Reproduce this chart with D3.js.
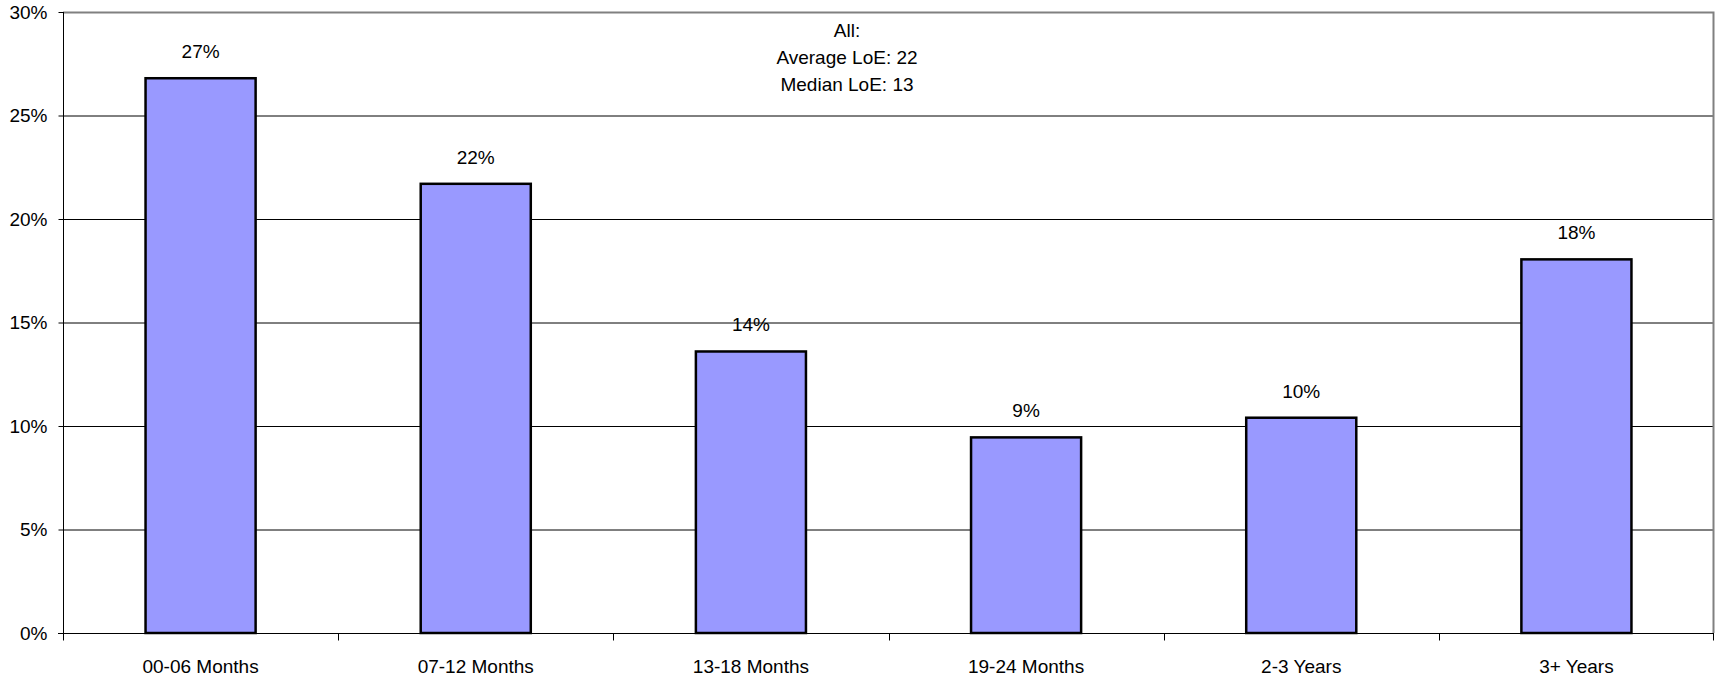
<!DOCTYPE html>
<html>
<head>
<meta charset="utf-8">
<script src="https://cdn.jsdelivr.net/npm/d3@7"></script>
<style>
  body { margin: 0; background: #fff; }
  text { font-family: "Liberation Sans", Arial, sans-serif; fill: #000; }
  .axis path, .axis line { stroke: #000; }
  .axis text { font-size: 19px; }
  .grid line { stroke: #000; stroke-width: 1; }
</style>
</head>
<body>
<div id="chart"></div>
<script>
var margin = {top: 12, right: 1, bottom: 45, left: 63};
var width = 1715 - margin.left - margin.right;
var height = 678 - margin.top - margin.bottom;

// data
var categories = ["00-06 Months", "07-12 Months", "13-18 Months", "19-24 Months", "2-3 Years", "3+ Years"];
var shares = [26.8, 21.7, 13.6, 9.45, 10.4, 18.05];
var shareLabels = ["27%", "22%", "14%", "9%", "10%", "18%"];
var yTicks = [0, 5, 10, 15, 20, 25, 30];
var noteLines = ["All:", "Average LoE: 22", "Median LoE: 13"];

var svg = d3.select("#chart")
            .append("svg")
              .attr("width", 1715)
              .attr("height", 678);

var chart = svg.append("g")
               .attr("transform", "translate(" + margin.left + "," + margin.top + ")");

// scales
var xScale = d3.scaleBand()
               .domain(categories)
               .range([0, width])
               .paddingInner(0.6)
               .paddingOuter(0.3);

var yScale = d3.scaleLinear()
               .domain([0, 30])
               .range([height, 0]);

// gridlines
chart.append("g")
      .attr("class", "grid")
     .selectAll("line")
      .data(yTicks.filter(function(d) { return d > 0 && d < 30; }))
      .enter()
     .append("line")
      .attr("x1", 0)
      .attr("x2", width)
      .attr("y1", function(d) { return yScale(d) + 0.5; })
      .attr("y2", function(d) { return yScale(d) + 0.5; });

// plot border (top and right)
chart.append("path")
      .attr("d", "M0," + (yScale(30) + 0.5) + "H" + (width - 0.5) + "V" + height)
      .attr("fill", "none")
      .attr("stroke", "#808080")
      .attr("stroke-width", 2);

// bars
chart.selectAll(".bar")
      .data(shares)
      .enter()
     .append("rect")
      .attr("class", "bar")
      .attr("x", function(d, i) { return xScale(categories[i]); })
      .attr("y", function(d) { return yScale(d); })
      .attr("width", xScale.bandwidth())
      .attr("height", function(d) { return height - yScale(d); })
      .attr("fill", "#9999ff")
      .attr("stroke", "#000")
      .attr("stroke-width", 2.5);

// bar labels
chart.selectAll(".bar-label")
      .data(shares)
      .enter()
     .append("text")
      .attr("class", "bar-label")
      .attr("x", function(d, i) { return xScale(categories[i]) + xScale.bandwidth() / 2; })
      .attr("y", function(d) { return yScale(d) - 20; })
      .attr("text-anchor", "middle")
      .style("font-size", "19px")
      .text(function(d, i) { return shareLabels[i]; });

// y axis
var yAxis = d3.axisLeft(yScale)
              .tickValues(yTicks)
              .tickSize(5)
              .tickPadding(11)
              .tickFormat(function(d) { return d + "%"; });

chart.append("g")
      .attr("class", "axis y-axis")
      .attr("transform", "translate(0.5,0)")
      .call(yAxis)
      .call(function(g) { g.select(".domain").attr("d", "M0,0V" + height); });

// x axis: ticks sit between categories
var xAxis = chart.append("g")
      .attr("class", "axis x-axis")
      .attr("transform", "translate(0," + (height + 0.5) + ")");

xAxis.append("line")
      .attr("x1", -5)
      .attr("x2", width)
      .attr("stroke", "#000");

var step = xScale.step();
xAxis.selectAll(".cat-tick")
      .data(d3.range(categories.length + 1))
      .enter()
     .append("line")
      .attr("class", "cat-tick")
      .attr("x1", function(i) { return Math.min(Math.round(i * step), width - 1) + 0.5; })
      .attr("x2", function(i) { return Math.min(Math.round(i * step), width - 1) + 0.5; })
      .attr("y1", 0)
      .attr("y2", 7)
      .attr("stroke", "#000");

xAxis.selectAll(".cat-label")
      .data(categories)
      .enter()
     .append("text")
      .attr("class", "cat-label")
      .attr("x", function(d) { return xScale(d) + xScale.bandwidth() / 2; })
      .attr("y", 39)
      .attr("text-anchor", "middle")
      .style("font-size", "19px")
      .text(function(d) { return d; });

// note
chart.append("g")
      .attr("class", "note")
     .selectAll("text")
      .data(noteLines)
      .enter()
     .append("text")
      .attr("x", 847 - margin.left)
      .attr("y", function(d, i) { return 25 + 27 * i; })
      .attr("text-anchor", "middle")
      .style("font-size", "19px")
      .text(function(d) { return d; });
</script>
</body>
</html>
